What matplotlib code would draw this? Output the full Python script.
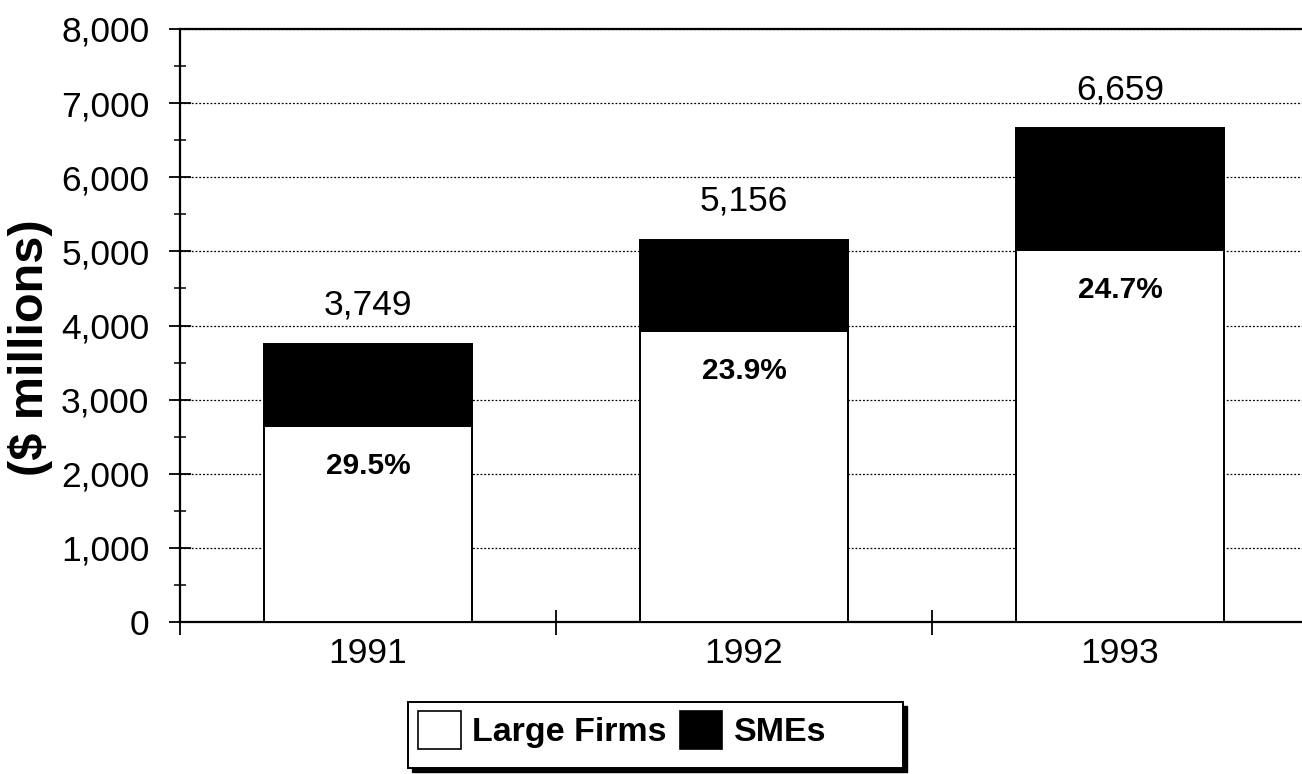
import matplotlib
matplotlib.use("Agg")
import matplotlib.pyplot as plt
from matplotlib.patches import Rectangle
from matplotlib.ticker import MultipleLocator, FixedLocator, FuncFormatter

plt.rcParams['font.family'] = ['Liberation Sans', 'DejaVu Sans']

years = ["1991", "1992", "1993"]
large_firms = [2643, 3924, 5014]
smes = [1106, 1232, 1645]
totals = [3749, 5156, 6659]
sme_share = ["29.5%", "23.9%", "24.7%"]

W, H = 1302, 774
fig = plt.figure(figsize=(W / 100, H / 100), dpi=100)
ax = fig.add_axes([180/W, 152/H, 1128/W, 593/H])

x = list(range(len(years)))
w = 0.553
ax.bar(x, large_firms, width=w, color='white', edgecolor='black', linewidth=1.4,
       label='Large Firms', zorder=3)
ax.bar(x, smes, width=w, bottom=large_firms, color='black', edgecolor='black',
       linewidth=1.4, label='SMEs', zorder=3)

for xi, t, lf, pct in zip(x, totals, large_firms, sme_share):
    ax.annotate(f"{t:,}", (xi, t), xytext=(0, 21), textcoords='offset points',
                ha='center', va='baseline', fontsize=25.5, zorder=5)
    ax.annotate(pct, (xi, lf), xytext=(0, -34.5), textcoords='offset points',
                ha='center', va='baseline', fontsize=21.5, fontweight='bold', zorder=5)

ax.set_xlim(-0.5, 2.5)
ax.set_ylim(0, 8000)

ax.yaxis.set_major_locator(MultipleLocator(1000))
ax.yaxis.set_minor_locator(MultipleLocator(500))
ax.yaxis.set_major_formatter(FuncFormatter(lambda v, p: f"{int(v):,}"))
ax.tick_params(axis='y', which='major', direction='inout', length=16, width=1.3,
               labelsize=25.5, pad=14)
ax.tick_params(axis='y', which='minor', direction='inout', length=8, width=1.1)

ax.xaxis.set_major_locator(FixedLocator([-0.5, 0.5, 1.5, 2.5]))
ax.xaxis.set_minor_locator(FixedLocator(x))
ax.xaxis.set_major_formatter(FuncFormatter(lambda v, p: ""))
ax.xaxis.set_minor_formatter(FuncFormatter(lambda v, p: years[int(round(v))]))
ax.tick_params(axis='x', which='major', direction='inout', length=18, width=1.3)
ax.tick_params(axis='x', which='minor', length=0, labelsize=25.5, pad=11)

ax.grid(axis='y', which='major', linestyle=(0, (1.5, 1.5)), color='black',
        linewidth=0.9, zorder=0)
ax.set_axisbelow(True)

for s in ['left', 'bottom', 'top']:
    ax.spines[s].set_linewidth(1.6)
ax.spines['right'].set_visible(False)

fig.text(31/W, 1 - 348/H, "($ millions)", rotation=90, ha='center', va='center',
         fontsize=35, fontweight='bold')

# legend frame with solid black drop shadow
fx0, fy0, fw, fh = 408/W, (H - 768)/H, 495/W, 66/H
fig.patches.append(Rectangle((fx0 + 4/W, fy0 - 4/H), fw, fh, transform=fig.transFigure,
                             facecolor='black', edgecolor='black', zorder=1))
fig.patches.append(Rectangle((fx0, fy0), fw, fh, transform=fig.transFigure,
                             facecolor='white', edgecolor='black', linewidth=1.4, zorder=2))

handles, labels = ax.get_legend_handles_labels()
leg = fig.legend(handles, labels, loc='center left', bbox_to_anchor=(418/W, (H - 730)/H),
                 bbox_transform=fig.transFigure, ncol=2, frameon=False,
                 prop={'size': 24.5, 'weight': 'bold'}, handlelength=1.25, handleheight=1.35,
                 handletextpad=0.33, columnspacing=0.4, borderpad=0, borderaxespad=0)
leg.set_zorder(10)
for h in leg.legend_handles:
    h.set_linewidth(1.2)

fig.savefig("out.png", dpi=100)
